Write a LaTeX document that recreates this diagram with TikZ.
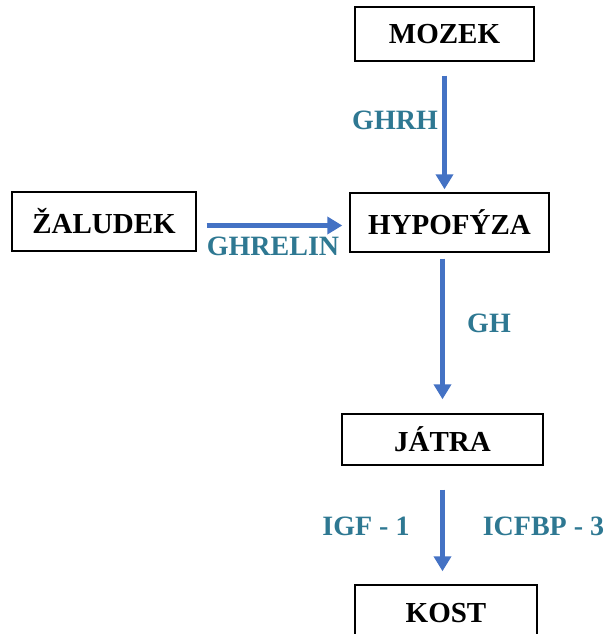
\documentclass[tikz,border=0pt]{standalone}
\usepackage{fontspec}
\setmainfont{Liberation Serif}
\usetikzlibrary{arrows.meta}
\definecolor{arrowblue}{RGB}{68,114,196}
\definecolor{labelteal}{RGB}{46,120,146}
\begin{document}
\begin{tikzpicture}[x=1pt,y=-1pt,
  box/.style={draw=black,line width=1.4pt,inner sep=0pt,
    font=\fontsize{29}{30}\selectfont\bfseries,text=black},
  lbl/.style={font=\fontsize{28}{30}\selectfont\bfseries,text=labelteal,inner sep=0pt},
  flow/.style={draw=arrowblue,line width=4.3pt,-{Triangle[width=17pt,length=15pt]}}]
\useasboundingbox (0,0) rectangle (608,634);
\node[box,minimum width=179pt,minimum height=54pt] (mozek) at (444.5,34) {MOZEK};
\node[box,minimum width=199pt,minimum height=59pt] (hypo) at (449.5,222.5) {HYPOFÝZA};
\node[box,minimum width=184pt,minimum height=59pt] (zal) at (104,221.5) {ŽALUDEK};
\node[box,minimum width=201pt,minimum height=51pt] (jatra) at (442.5,439.5) {JÁTRA};
\node[box,minimum width=182pt,minimum height=56pt] (kost) at (446,613) {KOST};
\draw[flow,shorten <=14pt,shorten >=3pt] (mozek.south) -- (mozek.south |- hypo.north);
\draw[flow,shorten <=10pt,shorten >=7pt] ([yshift=-4pt]zal.east) -- ([yshift=-4pt]zal.east -| hypo.west);
\draw[flow,shorten <=6pt,shorten >=14pt] (hypo.south -| jatra.north) -- (jatra.north);
\draw[flow,shorten <=24pt,shorten >=13pt] (jatra.south) -- (jatra.south |- kost.north);
\node[lbl] (ghrh) at (395,120) {GHRH};
\node[lbl] (ghrelin) at (273,246) {GHRELIN};
\node[lbl] (gh) at (489,323) {GH};
\node[lbl] (igf) at (366,526) {IGF - 1};
\node[lbl] (icfbp) at (543.5,526) {ICFBP - 3};
\end{tikzpicture}
\end{document}
